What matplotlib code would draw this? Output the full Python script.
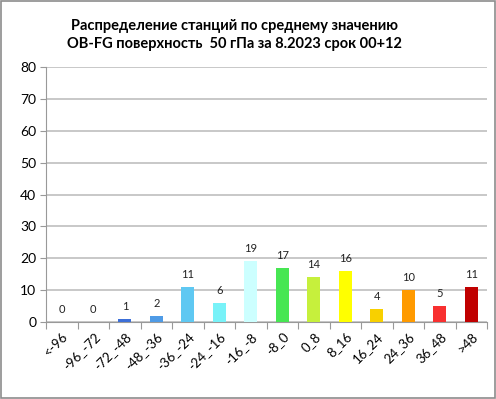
import matplotlib
matplotlib.use('Agg')
import matplotlib.pyplot as plt
from matplotlib.patches import Rectangle

plt.rcParams['font.family'] = ['Lato', 'DejaVu Sans']

categories = ['<-96', '-96_-72', '-72_-48', '-48_-36', '-36_-24', '-24_-16', '-16_-8',
              '-8_0', '0_8', '8_16', '16_24', '24_36', '36_48', '>48']
counts = [0, 0, 1, 2, 11, 6, 19, 17, 14, 16, 4, 10, 5, 11]
colors = ['#1F3A93', '#2A52BE', '#3C6FD8', '#4F9BE6', '#5FC8F2', '#78F2F8', '#CCFFFF',
          '#47E653', '#C6F03C', '#FFFF00', '#F8D000', '#FF9A00', '#F83030', '#C00000']
title = 'Распределение станций по среднему значению\nOB-FG поверхность  50 гПа за 8.2023 срок 00+12'

fig = plt.figure(figsize=(4.96, 3.99), dpi=100)
ax = fig.add_axes([0.093, 0.193, 0.889, 0.639])

x = range(len(categories))
bars = ax.bar(x, counts, width=0.42, color=colors, zorder=3)
for xi, v in zip(x, counts):
    ax.text(xi, v + 2.2, str(v), ha='center', va='bottom', fontsize=8, color='#222222')

ax.set_xlim(-0.5, len(categories) - 0.5)
ax.set_ylim(0, 80)
ax.set_yticks(range(0, 81, 10))
ax.tick_params(axis='y', length=4, color='#999999', labelsize=10, pad=3)
ax.yaxis.grid(True, color='#C4C4C4', linewidth=1.3, zorder=0)
ax.set_xticks([i - 0.5 for i in range(len(categories) + 1)], minor=False)
ax.set_xticklabels([])
ax.tick_params(axis='x', length=5, color='#999999', direction='out')
ax.set_xticks(list(x), minor=True)
ax.set_xticklabels(categories, minor=True, rotation=45, ha='right', rotation_mode='anchor', fontsize=9.5)
ax.tick_params(axis='x', which='minor', length=0, pad=6)

for s in ['top', 'right']:
    ax.spines[s].set_visible(False)
ax.spines['left'].set_color('#999999')
ax.spines['bottom'].set_color('#999999')

fig.text(0.472, 0.912, title, ha='center', va='center', fontsize=10.5, fontweight='bold',
         linespacing=1.4)
fig.patches.append(Rectangle((0.002, 0.002), 0.996, 0.996, transform=fig.transFigure,
                             fill=False, edgecolor='#8C8C8C', linewidth=1.2))

fig.savefig('out.png', dpi=100)
